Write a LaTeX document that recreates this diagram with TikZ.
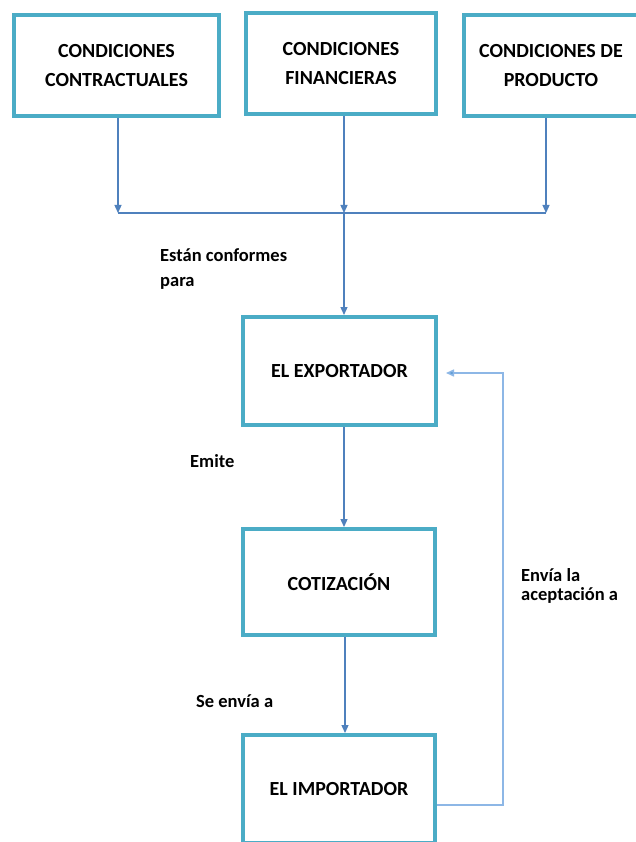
\documentclass[tikz,border=0pt]{standalone}
\usepackage{fontspec}
\setmainfont{Carlito}
\usetikzlibrary{arrows.meta}
\definecolor{boxline}{RGB}{75,172,198}
\definecolor{flow}{RGB}{79,129,189}
\definecolor{back}{RGB}{141,183,230}
\definecolor{backtip}{RGB}{91,155,213}
\tikzset{
  x=1pt, y=-1pt,
  stagebox/.style={draw=boxline, line width=4pt, rectangle, inner sep=0pt,
    align=center, font=\fontsize{20}{29}\selectfont\bfseries},
  flowline/.style={draw=flow, line width=1.3pt, -{Triangle[length=8pt,width=7pt]}},
  plainline/.style={draw=flow, line width=1.3pt},
  backline/.style={draw=back, line width=2pt},
  steplabel/.style={anchor=base west, inner sep=0pt, align=left,
    font=\fontsize{18.5}{25}\selectfont\bfseries}
}
\begin{document}
\begin{tikzpicture}
\useasboundingbox (0,0) rectangle (636,842);
\fill[white] (0,0) rectangle (636,842);

% condition boxes
\node[stagebox, minimum width=205, minimum height=101] (contr) at (116.5,65.5)
  {CONDICIONES\\CONTRACTUALES};
\node[stagebox, minimum width=190, minimum height=101] (finan) at (341,63.5)
  {CONDICIONES\\FINANCIERAS};
\node[stagebox, minimum width=174, minimum height=101] (prod) at (551,65.5)
  {CONDICIONES DE\\PRODUCTO};

% main chain
\node[stagebox, minimum width=193, minimum height=108] (exp) at (339.5,371) {EL EXPORTADOR};
\node[stagebox, minimum width=192, minimum height=106] (cot) at (339,582) {COTIZACIÓN};
\node[stagebox, minimum width=192, minimum height=108] (imp) at (339,789) {EL IMPORTADOR};

% collector bar
\coordinate (barL) at (118,213);
\coordinate (barM) at (344,213);
\coordinate (barR) at (546,213);
\draw[flowline] (contr.south -| barL) -- (barL);
\draw[flowline] (finan.south -| barM) -- (barM);
\draw[flowline] (prod.south -| barR) -- (barR);
\draw[plainline] (barL) -- (barR);
\draw[flowline] (barM) -- (exp.north -| barM);

\draw[flowline] (exp.south -| barM) -- (cot.north -| barM);
\coordinate (lowM) at (345,700);
\draw[flowline] (cot.south -| lowM) -- (imp.north -| lowM);

% acceptance return path
\coordinate (fbA) at (503,805);
\coordinate (fbB) at (503,373);
\draw[backline] (imp.east |- fbA) -- (fbA) -- (fbB) -- ([xshift=16pt]exp.east |- fbB);
\draw[draw=back, line width=1.5pt, -{Triangle[length=8pt,width=7pt,fill=backtip]}, shorten >=8pt]
  ([xshift=16pt]exp.east |- fbB) -- (exp.east |- fbB);

% labels (anchored on the baseline of their last line)
\node[steplabel] (l1) at (160,286) {Están conformes\\para};
\node[steplabel] (l2) at (190,467) {Emite};
\node[steplabel] (l3) at (196,707) {Se envía a};
\node[steplabel, font=\fontsize{18.5}{19}\selectfont\bfseries] (l4) at (521,600) {Envía la\\aceptación a};
\end{tikzpicture}
\end{document}
